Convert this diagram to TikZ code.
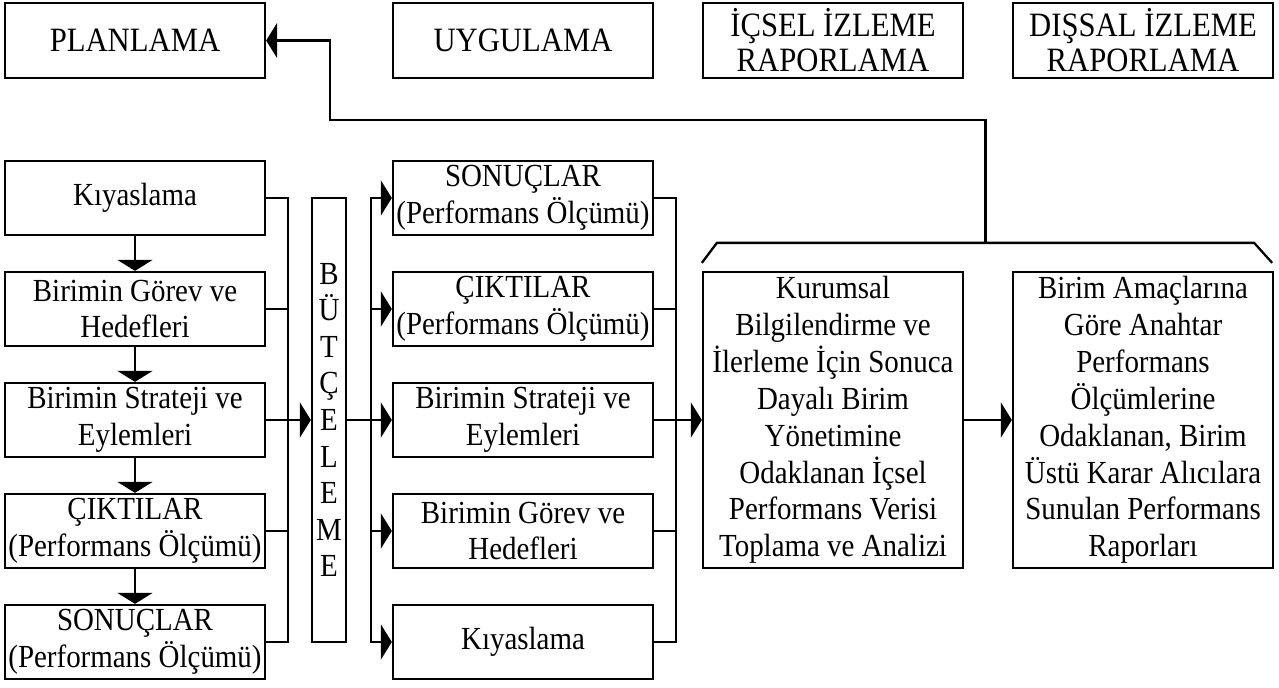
\documentclass[tikz,border=0pt]{standalone}
\usepackage{fontspec}
\setmainfont{Liberation Serif}[FakeStretch=0.9]
\usetikzlibrary{arrows.meta,positioning,calc}

\begin{document}
\begin{tikzpicture}[
  font=\fontsize{18.3}{21}\selectfont,
  >={Triangle[length=0.22cm,width=0.7cm]},
  line width=1.3pt,
  stepbox/.style={draw, align=center, minimum width=5.2cm, minimum height=1.48cm, inner sep=1pt},
  topbox/.style={draw, align=center, minimum width=5.2cm, minimum height=1.5cm, inner sep=1pt, font=\fontsize{19.4}{20}\selectfont},
  bigbox/.style={draw, align=center, minimum width=5.2cm, minimum height=5.92cm, inner sep=1pt, font=\fontsize{18.3}{21}\selectfont},
  arr/.style={->}
]
\useasboundingbox (0,0) rectangle (25.58,-13.74);

% top row
\node[topbox] (plan) at (2.70,-0.81) {PLANLAMA};
\node[topbox] (uyg) at (10.46,-0.81) {UYGULAMA};
\node[topbox] (icsel) at (16.66,-0.81) {İÇSEL İZLEME\\RAPORLAMA};
\node[topbox] (dissal) at (22.86,-0.81) {DIŞSAL İZLEME\\RAPORLAMA};

% left column
\node[stepbox] (lk) at (2.70,-3.96) {Kıyaslama};
\node[stepbox] (lg) at (2.70,-6.18) {Birimin Görev ve\\Hedefleri};
\node[stepbox] (ls) at (2.70,-8.40) {Birimin Strateji ve\\Eylemleri};
\node[stepbox] (lc) at (2.70,-10.62) {ÇIKTILAR\\(Performans Ölçümü)};
\node[stepbox] (lr) at (2.70,-12.84) {SONUÇLAR\\(Performans Ölçümü)};

\node[draw, minimum width=0.68cm, minimum height=8.88cm, inner sep=0pt, align=center, font=\fontsize{18.3}{20.8}\selectfont] (butce) at (6.58,-8.40) {B\\Ü\\T\\Ç\\E\\L\\E\\M\\E};

% middle column
\node[stepbox] (mr) at (10.46,-3.96) {SONUÇLAR\\(Performans Ölçümü)};
\node[stepbox] (mc) at (10.46,-6.18) {ÇIKTILAR\\(Performans Ölçümü)};
\node[stepbox] (ms) at (10.46,-8.40) {Birimin Strateji ve\\Eylemleri};
\node[stepbox] (mg) at (10.46,-10.62) {Birimin Görev ve\\Hedefleri};
\node[stepbox] (mk) at (10.46,-12.84) {Kıyaslama};

% right boxes
\node[bigbox] (ic) at (16.66,-8.40) {Kurumsal\\Bilgilendirme ve\\İlerleme İçin Sonuca\\Dayalı Birim\\Yönetimine\\Odaklanan İçsel\\Performans Verisi\\Toplama ve Analizi};
\node[bigbox] (dis) at (22.86,-8.40) {Birim Amaçlarına\\Göre Anahtar\\Performans\\Ölçümlerine\\Odaklanan, Birim\\Üstü Karar Alıcılara\\Sunulan Performans\\Raporları};

\coordinate (lbus) at (5.76,-8.40);
\coordinate (rbus) at (7.42,-8.40);
\coordinate (mbus) at (13.52,-8.40);
\coordinate (brtop) at (19.71,-4.88);
\coordinate (fb) at (6.60,-2.40);

\draw[arr] (lk) -- (lg);
\draw[arr] (lg) -- (ls);
\draw[arr] (ls) -- (lc);
\draw[arr] (lc) -- (lr);

\draw (lk.east) -| (lbus |- lr.east) -- (lr.east);
\draw (lg.east) -- (lbus |- lg.east);
\draw (lc.east) -- (lbus |- lc.east);
\draw[arr] (ls.east) -- (butce.west);

\draw (butce.east) -- (rbus);
\draw[arr] (rbus) |- (mr.west);
\draw[arr] (rbus) |- (mk.west);
\draw[arr] (rbus |- mc.west) -- (mc.west);
\draw[arr] (rbus |- mg.west) -- (mg.west);
\draw[arr] (rbus) -- (ms.west);

\draw (mr.east) -| (mbus |- mk.east) -- (mk.east);
\draw (mc.east) -- (mbus |- mc.east);
\draw (mg.east) -- (mbus |- mg.east);
\draw[arr] (ms.east) -- (ic.west);
\draw[arr] (ic) -- (dis);

% bracket and feedback to planning
\draw ($(ic.north west)+(0,0.16)$) -- ++(0.30,0.40) -- ($(dis.north east)+(-0.40,0.56)$) -- ++(0.36,-0.40);
\draw[arr] (brtop) |- (fb) |- (plan.east);
\end{tikzpicture}
\end{document}
